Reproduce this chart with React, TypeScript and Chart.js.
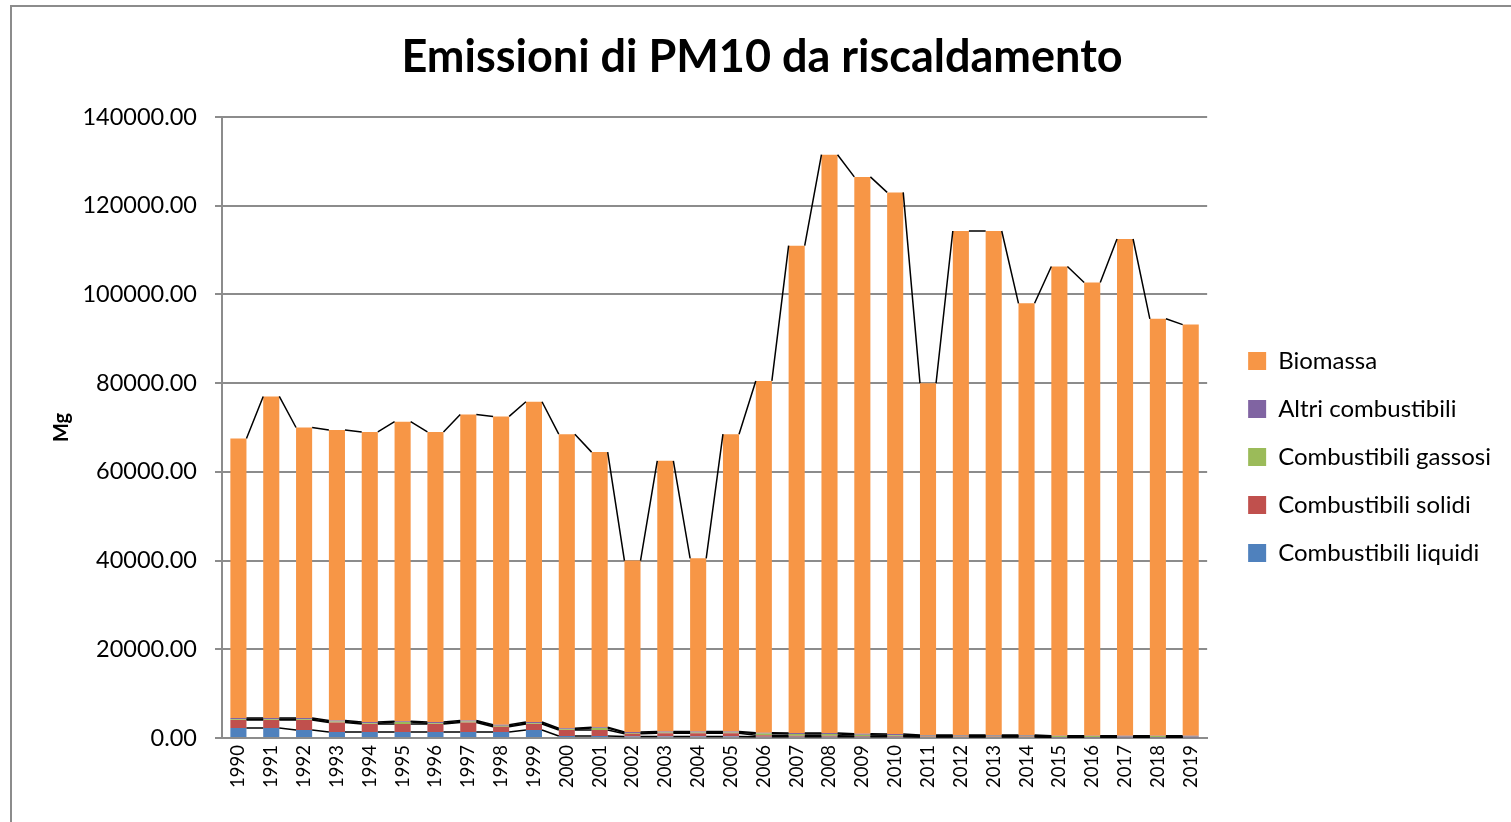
import React, { useEffect, useRef } from "react";
import { Chart, registerables } from "chart.js";

Chart.register(...registerables);

const years = [
  "1990", "1991", "1992", "1993", "1994", "1995", "1996", "1997", "1998", "1999",
  "2000", "2001", "2002", "2003", "2004", "2005", "2006", "2007", "2008", "2009",
  "2010", "2011", "2012", "2013", "2014", "2015", "2016", "2017", "2018", "2019",
];

const combustibiliLiquidi = [
  2250, 2250, 1800, 1350, 1350, 1350, 1350, 1350, 1350, 1800,
  450, 450, 350, 350, 350, 350, 300, 300, 300, 300,
  300, 250, 250, 250, 250, 150, 150, 150, 150, 150,
];
const combustibiliSolidi = [
  1800, 1800, 2250, 2150, 1800, 1800, 1800, 2150, 1200, 1350,
  1350, 1350, 600, 700, 700, 700, 300, 200, 200, 150,
  150, 100, 100, 100, 100, 50, 50, 50, 50, 50,
];
const combustibiliGassosi = [
  200, 200, 200, 200, 200, 450, 200, 200, 200, 200,
  200, 450, 200, 200, 200, 200, 400, 400, 400, 300,
  150, 150, 150, 150, 150, 250, 250, 100, 250, 100,
];
const altriCombustibili = [
  250, 250, 250, 250, 250, 200, 250, 250, 250, 250,
  200, 200, 200, 200, 200, 200, 200, 200, 200, 200,
  300, 150, 150, 150, 150, 50, 50, 200, 50, 200,
];
const biomassa = [
  63000, 72500, 65500, 65500, 65400, 67500, 65400, 69000, 69500, 72200,
  66300, 62000, 38650, 61050, 39050, 67050, 79300, 109900, 130400, 125550,
  122100, 79350, 113650, 113650, 97350, 105800, 102200, 112000, 94000, 92700,
];

const yMin = 0;
const yMax = 140000;
const yStep = 20000;

const FONT = "Lato, 'Open Sans', 'Noto Sans', sans-serif";
const GRID = "#8c8c8c";

const seriesLinesPlugin = {
  id: "seriesLines",
  afterDatasetsDraw(chart: any) {
    const ctx = chart.ctx;
    ctx.save();
    ctx.strokeStyle = "#000000";
    ctx.lineWidth = 1.5;
    chart.data.datasets.forEach((_ds: any, di: number) => {
      const meta = chart.getDatasetMeta(di);
      if (meta.hidden) return;
      ctx.beginPath();
      for (let i = 0; i < meta.data.length - 1; i++) {
        const a: any = meta.data[i];
        const b: any = meta.data[i + 1];
        ctx.moveTo(a.x + a.width / 2, a.y);
        ctx.lineTo(b.x - b.width / 2, b.y);
      }
      ctx.stroke();
    });
    ctx.restore();
  },
};

const framePlugin = {
  id: "frame",
  beforeDraw(chart: any) {
    const ctx = chart.ctx;
    ctx.save();
    ctx.fillStyle = "#ffffff";
    ctx.fillRect(0, 0, chart.width, chart.height);
    ctx.strokeStyle = "#8c8c8c";
    ctx.lineWidth = 2;
    ctx.strokeRect(11, 6, chart.width + 50, chart.height + 50);
    ctx.restore();
  },
};

export default function App() {
  const canvasRef = useRef<HTMLCanvasElement | null>(null);

  useEffect(() => {
    if (!canvasRef.current) return;
    const chart = new Chart(canvasRef.current, {
      type: "bar",
      data: {
        labels: years,
        datasets: [
          { label: "Combustibili liquidi", data: combustibiliLiquidi, backgroundColor: "#4F81BD" },
          { label: "Combustibili solidi", data: combustibiliSolidi, backgroundColor: "#C0504D" },
          { label: "Combustibili gassosi", data: combustibiliGassosi, backgroundColor: "#9BBB59" },
          { label: "Altri combustibili", data: altriCombustibili, backgroundColor: "#8064A2" },
          { label: "Biomassa", data: biomassa, backgroundColor: "#F79646" },
        ],
      },
      options: {
        responsive: false,
        animation: false,
        devicePixelRatio: 1,
        layout: { padding: { left: 23, right: 10, top: 0, bottom: 24 } },
        datasets: {
          bar: { categoryPercentage: 1, barPercentage: 0.49, borderWidth: 0 },
        },
        plugins: {
          title: {
            display: true,
            text: "Emissioni di PM10 da riscaldamento",
            color: "#000000",
            font: { family: FONT, size: 45, weight: "bold", lineHeight: 1.2 },
            padding: { top: 30, bottom: 33 },
          },
          legend: {
            position: "right",
            reverse: true,
            maxWidth: 400,
            title: {
              display: true,
              text: " ",
              font: { size: 10, lineHeight: 1 },
              padding: { top: 106, bottom: 0 },
            },
            labels: {
              boxWidth: 18,
              boxHeight: 18,
              padding: 24,
              color: "#000000",
              font: { family: FONT, size: 24 },
            },
          },
          tooltip: { enabled: false },
        },
        scales: {
          x: {
            stacked: true,
            grid: { display: false, drawTicks: false },
            border: { display: true, color: GRID, width: 2 },
            ticks: {
              minRotation: 90,
              maxRotation: 90,
              padding: 7,
              color: "#000000",
              font: { family: FONT, size: 18.5 },
            },
            afterFit: (s: any) => {
              s.height = 60;
            },
          },
          y: {
            stacked: true,
            min: yMin,
            max: yMax,
            grid: { color: GRID, lineWidth: 2, tickLength: 7, drawTicks: true },
            border: { display: true, color: GRID, width: 2 },
            ticks: {
              stepSize: yStep,
              padding: 18,
              color: "#000000",
              font: { family: FONT, size: 23.5 },
              callback: (v: any) => Number(v).toFixed(2),
            },
            title: {
              display: true,
              text: "Mg",
              color: "#000000",
              font: { family: FONT, size: 20, weight: "bold", lineHeight: 1.2 },
              padding: { top: 27, bottom: 0 },
            },
            afterFit: (s: any) => {
              s.width = 199;
            },
          },
          legendGap: {
            type: "linear",
            position: "right",
            display: true,
            grid: { display: false, drawTicks: false },
            border: { display: false },
            ticks: { display: false },
            afterFit: (s: any) => {
              s.width = 17;
            },
          },
        },
      },
      plugins: [framePlugin, seriesLinesPlugin],
    });
    return () => chart.destroy();
  }, []);

  return (
    <div style={{ position: "fixed", left: 0, top: 0, width: 1511, height: 822, overflow: "hidden", background: "#fff" }}>
      <canvas ref={canvasRef} width={1511} height={822} style={{ display: "block" }} />
    </div>
  );
}
